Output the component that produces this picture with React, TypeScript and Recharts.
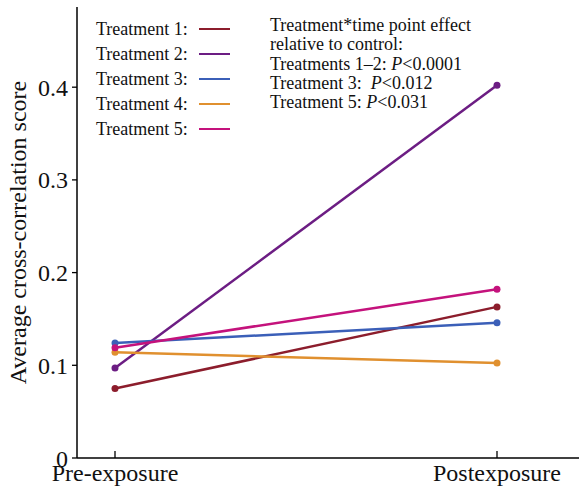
import React from 'react';
import { LineChart, Line, XAxis, YAxis, Label } from 'recharts';

const TIME_POINTS = ['Pre-exposure', 'Postexposure'];
const TREATMENT_NAMES = ['Treatment 1', 'Treatment 2', 'Treatment 3', 'Treatment 4', 'Treatment 5'];
const TREATMENT_1 = [0.075, 0.163];
const TREATMENT_2 = [0.097, 0.402];
const TREATMENT_3 = [0.124, 0.146];
const TREATMENT_4 = [0.114, 0.1025];
const TREATMENT_5 = [0.119, 0.182];
const Y_TICKS = [0, 0.1, 0.2, 0.3, 0.4];
const COLORS = ['#8c1d2c', '#6c1d83', '#3b5fb8', '#e0902f', '#c4127c'];

const ALL_SERIES = [TREATMENT_1, TREATMENT_2, TREATMENT_3, TREATMENT_4, TREATMENT_5];
const KEYS = ['t1', 't2', 't3', 't4', 't5'];

const data = TIME_POINTS.map((time, i) => {
    const row: Record<string, string | number> = { time };
    ALL_SERIES.forEach((s, k) => { row[KEYS[k]] = s[i]; });
    return row;
});

const FONT = '"Liberation Serif", "Times New Roman", serif';

// x ticks drawn by hand so the tick mark points up into the plot
const XTick = (props: any) => {
    const { x, y, payload } = props;
    const axisY = y - 6;
    return (
        <g>
            <line x1={x} x2={x} y1={axisY} y2={axisY - 7} stroke="#000" strokeWidth={1.3} />
            <text x={x} y={y} dy="0.71em" textAnchor="middle" fontSize={24} fontFamily={FONT} fill="#111">
                {payload.value}
            </text>
        </g>
    );
};

// y axis title, centred on the plot height
const YTitle = (props: any) => {
    const vb = props.viewBox || {};
    const cy = (vb.y ?? 7) + (vb.height ?? 451) / 2;
    const cx = 18;
    return (
        <text x={cx} y={cy} transform={`rotate(-90, ${cx}, ${cy})`} textAnchor="middle" dominantBaseline="central"
            fontSize={24} fontFamily={FONT} fill="#111">
            Average cross-correlation score
        </text>
    );
};

const LegendBox = () => (
    <div style={{ position: 'absolute', left: 0, top: 0, width: 579, height: 140, fontFamily: FONT, fontSize: 18, color: '#111', pointerEvents: 'none' }}>
        {TREATMENT_NAMES.map((name, i) => (
            <div key={name} style={{ position: 'absolute', left: 96, top: 18 + i * 25, height: 22, lineHeight: '22px', display: 'flex', alignItems: 'center', whiteSpace: 'nowrap' }}>
                <span style={{ width: 103 }}>{name}:</span>
                <span style={{ display: 'inline-block', width: 31, height: 2.5, background: COLORS[i] }} />
            </div>
        ))}
        <div style={{ position: 'absolute', left: 270, top: 16, lineHeight: '19.3px', whiteSpace: 'nowrap' }}>
            <div>Treatment*time point effect</div>
            <div>relative to control:</div>
            <div>Treatments 1–2: <i>P</i>&lt;0.0001</div>
            <div>Treatment 3:&nbsp; <i>P</i>&lt;0.012</div>
            <div>Treatment 5: <i>P</i>&lt;0.031</div>
        </div>
    </div>
);

export default function App() {
    return (
        <div style={{ position: 'absolute', left: 0, top: 0, width: 579, height: 489, background: '#fff' }}>
            <LineChart width={579} height={489} data={data} margin={{ top: 7, right: 0, bottom: 0, left: 0 }}>
                <XAxis
                    dataKey="time"
                    type="category"
                    padding={{ left: 38, right: 82 }}
                    height={31}
                    axisLine={{ stroke: '#000', strokeWidth: 1.5 }}
                    tickLine={false}
                    tickSize={0}
                    tickMargin={6}
                    tick={<XTick />}
                    interval={0}
                />
                <XAxis
                    xAxisId="top"
                    orientation="top"
                    dataKey="time"
                    height={0}
                    tick={false}
                    tickLine={false}
                    axisLine={{ stroke: '#000', strokeWidth: 1.5 }}
                />
                <YAxis
                    width={77}
                    domain={[0, 0.4865]}
                    ticks={Y_TICKS}
                    axisLine={{ stroke: '#000', strokeWidth: 1.5 }}
                    tickLine={{ stroke: '#000', strokeWidth: 1.3 }}
                    tickSize={5}
                    tickMargin={4}
                    tick={{ fontSize: 24, fontFamily: FONT, fill: '#111' }}
                >
                    <Label content={<YTitle />} />
                </YAxis>
                {KEYS.map((k, i) => (
                    <Line
                        key={k}
                        dataKey={k}
                        name={TREATMENT_NAMES[i]}
                        stroke={COLORS[i]}
                        strokeWidth={2.5}
                        dot={{ r: 3.5, fill: COLORS[i], stroke: COLORS[i], strokeWidth: 0 }}
                        activeDot={false}
                        isAnimationActive={false}
                    />
                ))}
            </LineChart>
            <LegendBox />
        </div>
    );
}
